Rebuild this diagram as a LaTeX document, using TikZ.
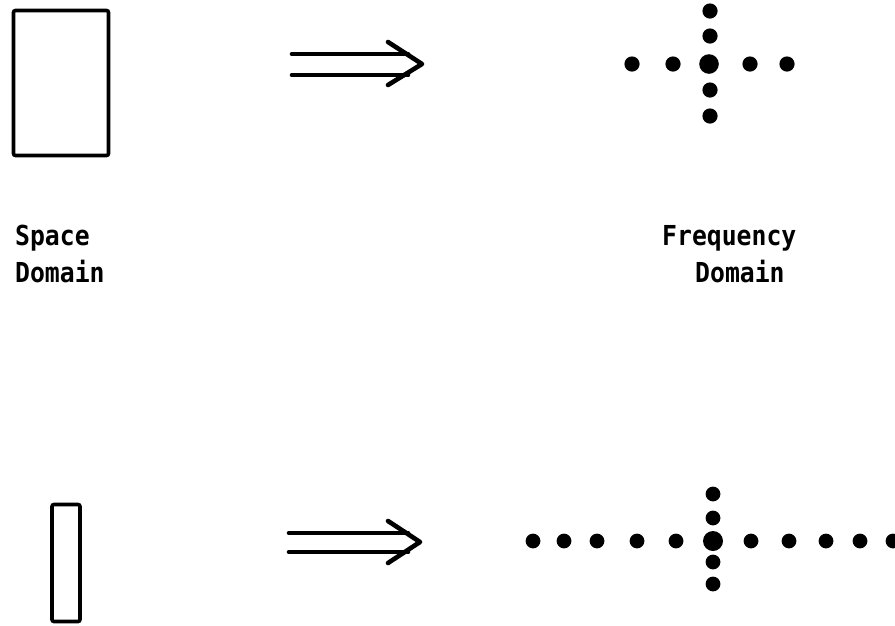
\documentclass[tikz,border=0pt]{standalone}
\usepackage{fontspec}
\newfontfamily\labelfont{DejaVu Sans Mono}[FakeStretch=0.9]
\begin{document}
\begin{tikzpicture}[x=1pt,y=-1pt,
  aperture/.style={draw,line width=3.6pt,rounded corners=2pt,inner sep=0pt},
  implies/.style={line width=4.6pt,line cap=round,line join=round},
  spot/.style={fill=black},
  caption/.style={anchor=base west,inner sep=0pt,font=\labelfont\bfseries\fontsize{27.5}{37}\selectfont}]
\useasboundingbox (0,0) rectangle (895,625);
\clip (0,0) rectangle (895,625);

% apertures in the space domain
\node[aperture,minimum width=95pt,minimum height=145pt] (wide) at (61,83) {};
\node[aperture,minimum width=28pt,minimum height=117pt] (narrow) at (66,563) {};

% double arrows (transform)
\draw[implies] (292,54) -- (408,54) (292,75) -- (408,75);
\draw[implies] (388,42) -- (422,64) -- (388,85);
\draw[implies] (289,533) -- (408,533) (289,552) -- (408,552);
\draw[implies] (388,521) -- (420,542) -- (388,563);

% spectrum of the wide aperture
\fill[spot] (709,64) circle (9.8pt);
\foreach \x in {632,673,750,787} \fill[spot] (\x,64) circle (7.6pt);
\foreach \y in {11,36,90,116} \fill[spot] (710,\y) circle (7.6pt);

% spectrum of the narrow aperture
\fill[spot] (713,541) circle (10pt);
\foreach \x in {533,564,597,637,676,751,789,826,860,893} \fill[spot] (\x,541) circle (7.4pt);
\foreach \y in {494,518,562,584} \fill[spot] (713,\y) circle (7.4pt);

% captions
\node[caption] (sp1) at (15,245) {Space};
\node[caption] (sp2) at (15,282) {Domain};
\node[caption] (fr1) at (662,245) {Frequency};
\node[caption] (fr2) at (695,282) {Domain};
\end{tikzpicture}
\end{document}
